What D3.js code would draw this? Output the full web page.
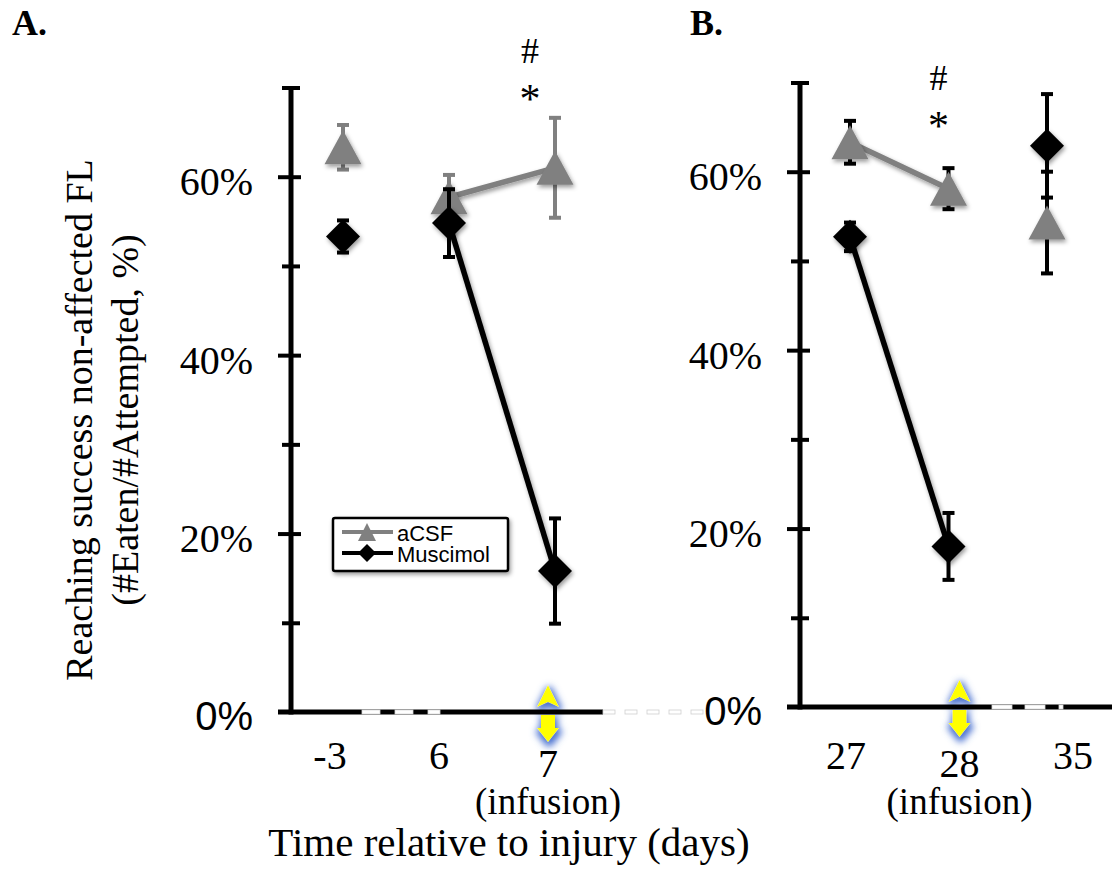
<!DOCTYPE html>
<html>
<head>
<meta charset="utf-8">
<script src="https://cdn.jsdelivr.net/npm/d3@7"></script>
<style>
body { margin: 0; background: #fff; }
</style>
</head>
<body>
<div id="chart"></div>
<script>
// days on the x axis of each panel
var daysA = ["-3", "6", "7"];
var daysB = ["27", "28", "35"];

// reaching success (%) and error (SEM)
var acsfA = [63.3, 57.7, 61.0];
var acsfErrA = [2.5, 2.5, 5.6];
var muscA = [53.3, 54.8, 15.8];
var muscErrA = [1.8, 3.8, 5.9];

var acsfB = [63.3, 58.1, 54.3];
var acsfErrB = [2.4, 2.3, 5.7];
var muscB = [52.7, 18.0, 62.9];
var muscErrB = [1.6, 3.75, 5.8];

// days joined by a line, and the infusion day
var linkedA = ["6", "7"];
var linkedB = ["27", "28"];
var infusionA = "7";
var infusionB = "28";

var yMajor = [0, 20, 40, 60];
var yMinor = [10, 30, 50, 70];

var width = 1112,
	height = 869;

var gray = "#808080";

var svg = d3.select("#chart").append("svg")
	.attr("width", width)
	.attr("height", height)
	.style("font-family", "'Liberation Serif', 'Times New Roman', serif");

var defs = svg.append("defs");

// soft drop shadow under the markers
var shadow = defs.append("filter").attr("id", "shadow")
	.attr("x", "-50%").attr("y", "-50%").attr("width", "200%").attr("height", "200%");
shadow.append("feDropShadow")
	.attr("dx", 1.5).attr("dy", 2.5)
	.attr("stdDeviation", 2)
	.attr("flood-color", "#000")
	.attr("flood-opacity", 0.4);

// blue glow round the yellow infusion arrows
var glow = defs.append("filter").attr("id", "glow")
	.attr("filterUnits", "userSpaceOnUse")
	.attr("x", -2000).attr("y", -2000).attr("width", 4000).attr("height", 4000);
glow.append("feMorphology").attr("in", "SourceAlpha").attr("operator", "dilate").attr("radius", 2).attr("result", "fat");
glow.append("feGaussianBlur").attr("in", "fat").attr("stdDeviation", 3.5).attr("result", "blur");
glow.append("feOffset").attr("in", "blur").attr("dx", 1).attr("dy", 3).attr("result", "off");
glow.append("feFlood").attr("flood-color", "#4a72d0").attr("flood-opacity", 1).attr("result", "blue");
glow.append("feComposite").attr("in", "blue").attr("in2", "off").attr("operator", "in").attr("result", "glowc");
var merge = glow.append("feMerge");
merge.append("feMergeNode").attr("in", "glowc");
merge.append("feMergeNode").attr("in", "SourceGraphic");

var triangle = "M0,-17L18.5,17L-18.5,17Z";
var diamond = "M0,-17L17,0L0,17L-17,0Z";
var arrow = "M0,-27L11,-5L0,-10L-11,-5Z M-7,3L7,3L7,16L11,16L0,30L-11,16L-7,16Z";

var panels = [
	{ letter: "A.", letterX: 12, days: daysA, acsf: acsfA, acsfErr: acsfErrA, musc: muscA, muscErr: muscErrA,
	  linked: linkedA, infusion: infusionA, axisX: 291, xRange: [343, 555], labelRange: [330, 548],
	  yRange: [712, 87.5], axisEnd: 603, gaps: [[362, 380], [395, 413], [428, 440]],
	  acsfErrColor: gray, markDx: -18, markY: 63 },
	{ letter: "B.", letterX: 690, days: daysB, acsf: acsfB, acsfErr: acsfErrB, musc: muscB, muscErr: muscErrB,
	  linked: linkedB, infusion: infusionB, axisX: 800, xRange: [850, 1047], labelRange: [846, 1073],
	  yRange: [707, 82.5], axisEnd: 1112, gaps: [[992, 1012], [1025, 1045], [1059, 1063]],
	  acsfErrColor: "#000", markDx: -21, markY: 90 }
];

panels.forEach(function(p){
	var g = svg.append("g");

	var y = d3.scaleLinear().domain([0, 70]).range(p.yRange);
	var x = d3.scalePoint().domain(p.days).range(p.xRange);
	var xl = d3.scalePoint().domain(p.days).range(p.labelRange);
	var y0 = y(0);

	// panel letter
	svg.append("text")
		.attr("x", p.letterX).attr("y", 35)
		.style("font-size", "36px").style("font-weight", "bold")
		.text(p.letter);

	// infusion arrow (behind the axis line)
	g.append("path")
		.attr("d", arrow)
		.attr("transform", "translate(" + xl(p.infusion) + "," + y0 + ")")
		.attr("fill", "#ffff00")
		.attr("filter", "url(#glow)");

	// x axis line with its broken stretch
	g.append("line")
		.attr("x1", p.axisX - 13).attr("x2", p.axisEnd)
		.attr("y1", y0).attr("y2", y0)
		.attr("stroke", "#000").attr("stroke-width", 5);
	g.selectAll("rect.gap").data(p.gaps)
		.enter().append("rect")
			.attr("class", "gap")
			.attr("x", function(d){ return d[0]; })
			.attr("width", function(d){ return d[1] - d[0]; })
			.attr("y", y0 - 2).attr("height", 4)
			.attr("fill", "#fff").attr("stroke", "#d8d8d8").attr("stroke-width", 0.8);

	// y axis: major ticks with labels, minor ticks without
	var yAxis = g.append("g")
		.attr("transform", "translate(" + p.axisX + ",0)")
		.call(d3.axisLeft(y).tickValues(yMajor.slice(1)).tickSize(13).tickPadding(25)
			.tickFormat(function(d){ return d + "%"; }));
	yAxis.select(".domain").remove();
	yAxis.selectAll(".tick line").attr("x1", 10).attr("stroke", "#000").attr("stroke-width", 4);
	yAxis.selectAll(".tick text")
		.attr("dy", "0.45em")
		.attr("fill", "#000")
		.style("font-family", "'Liberation Serif', serif")
		.style("font-size", "40px");
	// 0% label sits on the x axis
	yAxis.append("text")
		.attr("x", -38).attr("y", y0).attr("dy", "0.45em")
		.attr("text-anchor", "end").attr("fill", "#000")
		.style("font-size", "40px")
		.text("0%");

	var minor = g.append("g")
		.attr("transform", "translate(" + p.axisX + ",0)")
		.call(d3.axisLeft(y).tickValues(yMinor).tickSize(9).tickFormat(""));
	minor.select(".domain").remove();
	minor.selectAll(".tick line").attr("x1", 9).attr("stroke", "#000").attr("stroke-width", 4);

	g.append("line")
		.attr("x1", p.axisX).attr("x2", p.axisX)
		.attr("y1", y(70)).attr("y2", y0 + 2.5)
		.attr("stroke", "#000").attr("stroke-width", 5);

	// x tick labels
	g.selectAll("text.day").data(p.days)
		.enter().append("text")
			.attr("class", "day")
			.attr("x", function(d){ return xl(d); })
			.attr("y", function(d){ return d === p.infusion ? 777 : 769; })
			.attr("text-anchor", "middle")
			.style("font-size", "40px")
			.text(function(d){ return d; });
	g.append("text")
		.attr("x", xl(p.infusion)).attr("y", 814)
		.attr("text-anchor", "middle")
		.style("font-size", "37px")
		.text("(infusion)");

	// significance marks over the infusion day
	g.append("text")
		.attr("x", xl(p.infusion) + p.markDx).attr("y", p.markY)
		.attr("text-anchor", "middle")
		.style("font-size", "36px")
		.text("#");
	g.append("text")
		.attr("x", xl(p.infusion) + p.markDx).attr("y", p.markY + 50)
		.attr("text-anchor", "middle")
		.style("font-size", "42px")
		.text("*");

	var series = [
		{ vals: p.acsf, errs: p.acsfErr, color: gray, errColor: p.acsfErrColor, shape: triangle },
		{ vals: p.musc, errs: p.muscErr, color: "#000", errColor: "#000", shape: diamond }
	];

	var line = d3.line()
		.x(function(d){ return x(d.day); })
		.y(function(d){ return y(d.v); });

	series.forEach(function(s){
		var pts = p.days.map(function(d, i){ return { day: d, v: s.vals[i], e: s.errs[i] }; });
		var sg = g.append("g");

		var eb = sg.selectAll("g.err").data(pts)
			.enter().append("g").attr("class", "err")
				.attr("stroke", s.errColor).attr("stroke-width", 4);
		eb.append("line")
			.attr("x1", function(d){ return x(d.day); })
			.attr("x2", function(d){ return x(d.day); })
			.attr("y1", function(d){ return y(d.v + d.e); })
			.attr("y2", function(d){ return y(d.v - d.e); });
		eb.append("line")
			.attr("x1", function(d){ return x(d.day) - 6; })
			.attr("x2", function(d){ return x(d.day) + 6; })
			.attr("y1", function(d){ return y(d.v + d.e); })
			.attr("y2", function(d){ return y(d.v + d.e); });
		eb.append("line")
			.attr("x1", function(d){ return x(d.day) - 6; })
			.attr("x2", function(d){ return x(d.day) + 6; })
			.attr("y1", function(d){ return y(d.v - d.e); })
			.attr("y2", function(d){ return y(d.v - d.e); });

		sg.append("path")
			.datum(pts.filter(function(d){ return p.linked.indexOf(d.day) > -1; }))
			.attr("d", line)
			.attr("fill", "none")
			.attr("stroke", s.color)
			.attr("stroke-width", 5.5)
			.attr("filter", "url(#shadow)");

		sg.selectAll("path.mark").data(pts)
			.enter().append("path")
				.attr("class", "mark")
				.attr("d", s.shape)
				.attr("transform", function(d){ return "translate(" + x(d.day) + "," + y(d.v) + ")"; })
				.attr("fill", s.color)
				.attr("filter", "url(#shadow)");
	});
});

// faint dashes bridging the two panels
var bridgeY = panels[0].yRange[0];
svg.selectAll("rect.bridge").data(d3.range(panels[0].axisEnd, 705, 22))
	.enter().append("rect")
		.attr("class", "bridge")
		.attr("x", function(d){ return d; })
		.attr("y", bridgeY - 2)
		.attr("width", 12).attr("height", 4)
		.attr("fill", "#fff").attr("stroke", "#cfcfcf").attr("stroke-width", 0.8);

// y title, two lines
var ytitle = svg.append("text")
	.attr("transform", "translate(0,420) rotate(-90)")
	.attr("text-anchor", "middle")
	.style("font-size", "38px");
ytitle.append("tspan").attr("x", 0).attr("y", 92).text("Reaching success non-affected FL");
ytitle.append("tspan").attr("x", 0).attr("y", 138).text("(#Eaten/#Attempted, %)");

// x title
svg.append("text")
	.attr("x", 509).attr("y", 856)
	.attr("text-anchor", "middle")
	.style("font-size", "41px")
	.text("Time relative to injury (days)");

// legend
var legendItems = ["aCSF", "Muscimol"];
var legend = svg.append("g").attr("transform", "translate(333,518)");
legend.append("rect")
	.attr("width", 175).attr("height", 53).attr("rx", 2)
	.attr("fill", "#fff").attr("stroke", "#000").attr("stroke-width", 2.5)
	.attr("filter", "url(#shadow)");
var li = legend.selectAll("g.item").data(legendItems)
	.enter().append("g")
		.attr("class", "item")
		.attr("transform", function(d, i){ return "translate(0," + (14 + i * 21) + ")"; });
li.append("line")
	.attr("x1", 9).attr("x2", 60)
	.attr("stroke", function(d, i){ return i ? "#000" : gray; })
	.attr("stroke-width", 4);
li.append("path")
	.attr("d", function(d, i){ return i ? "M0,-9L9,0L0,9L-9,0Z" : "M0,-9L9,9L-9,9Z"; })
	.attr("transform", "translate(34,0)")
	.attr("fill", function(d, i){ return i ? "#000" : gray; });
li.append("text")
	.attr("x", 64).attr("y", 9)
	.style("font-family", "'Liberation Sans', Arial, sans-serif")
	.style("font-size", "22px")
	.text(function(d){ return d; });
</script>
</body>
</html>
